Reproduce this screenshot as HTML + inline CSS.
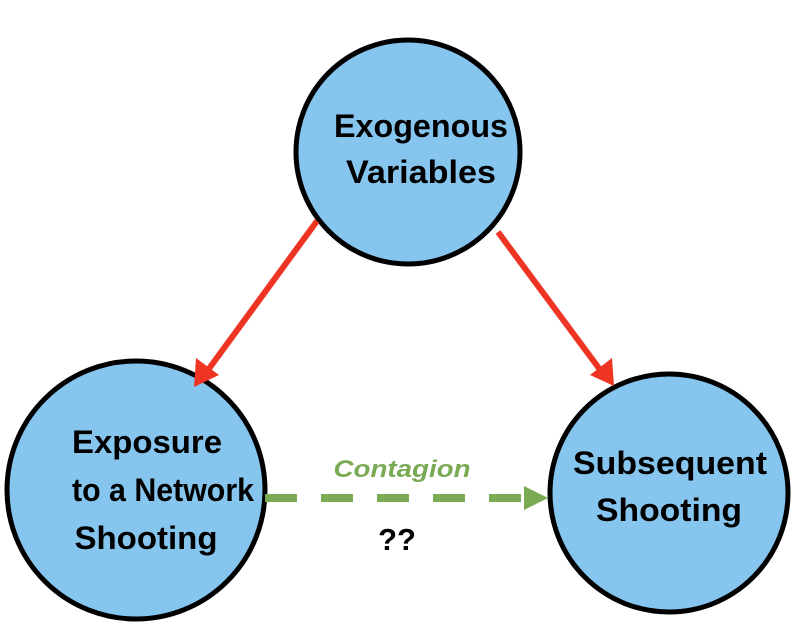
<!DOCTYPE html>
<html><head><style>body{margin:0;background:#fff}</style></head><body>
<svg width="812" height="630" viewBox="0 0 812 630" xmlns="http://www.w3.org/2000/svg" font-family="Liberation Sans, sans-serif" font-weight="bold">
<g fill="#85C5EE" stroke="#000" stroke-width="5">
<circle cx="408" cy="152" r="112"/>
<circle cx="136" cy="490" r="129"/>
<circle cx="669" cy="493" r="119"/>
</g>
<g stroke="#EE3524" stroke-width="6">
<line x1="317" y1="221" x2="208" y2="370"/>
<line x1="498" y1="232" x2="601" y2="371"/>
</g>
<polygon points="194,387 196,358 219,375" fill="#EE3524"/>
<polygon points="614,386 590,375 612,358" fill="#EE3524"/>
<line x1="265" y1="498" x2="522" y2="498" stroke="#7BAA55" stroke-width="8" stroke-dasharray="32,24"/>
<polygon points="524,486 548,498 524,510" fill="#7BAA55"/>
<g font-size="32" text-anchor="middle" fill="#000">
<text x="421" y="137" textLength="174" lengthAdjust="spacingAndGlyphs">Exogenous</text>
<text x="421" y="183" textLength="150" lengthAdjust="spacingAndGlyphs">Variables</text>
<text x="147" y="453" textLength="150" lengthAdjust="spacingAndGlyphs">Exposure</text>
<text x="163" y="501" textLength="182" lengthAdjust="spacingAndGlyphs">to a Network</text>
<text x="146" y="549" textLength="143" lengthAdjust="spacingAndGlyphs">Shooting</text>
<text x="670" y="474" textLength="194" lengthAdjust="spacingAndGlyphs">Subsequent</text>
<text x="669" y="521" textLength="146" lengthAdjust="spacingAndGlyphs">Shooting</text>
</g>
<text x="402" y="477" font-size="24" font-style="italic" fill="#7BAA55" text-anchor="middle" textLength="137" lengthAdjust="spacingAndGlyphs">Contagion</text>
<text x="397" y="550" font-size="31" text-anchor="middle">??</text>
</svg>
</body></html>
